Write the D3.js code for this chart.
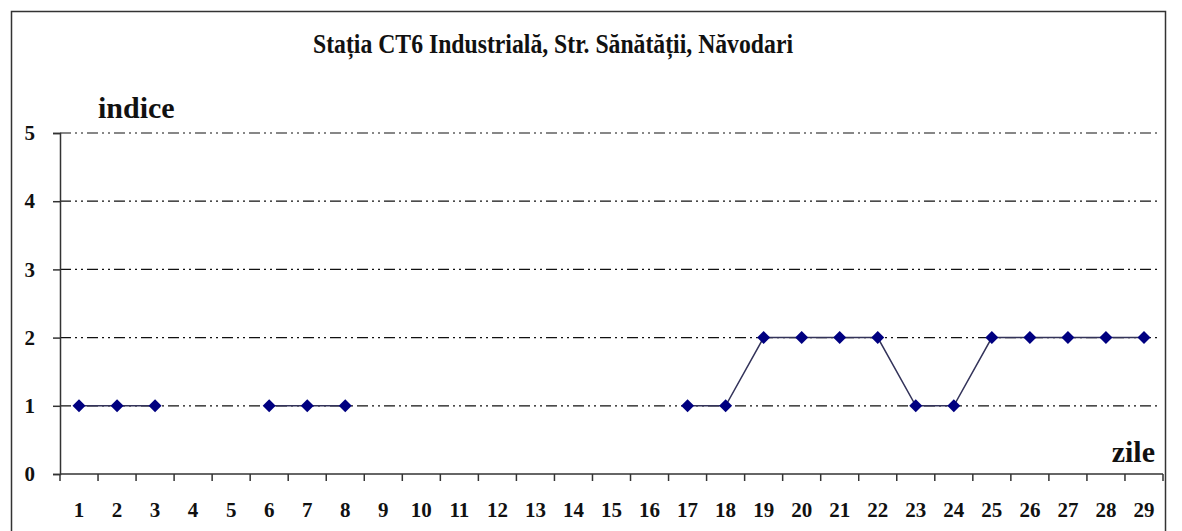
<!DOCTYPE html>
<html><head><meta charset="utf-8">
<script src="https://cdn.jsdelivr.net/npm/d3@7"></script>
</head>
<body style="margin:0">
<svg id="chart" width="1182" height="531"></svg>
<script>
const days = ["1","2","3","4","5","6","7","8","9","10","11","12","13","14","15","16","17","18","19","20","21","22","23","24","25","26","27","28","29"];
const indice = [1,1,1,null,null,1,1,1,null,null,null,null,null,null,null,null,1,1,2,2,2,2,1,1,2,2,2,2,2];
const yTicks = [0,1,2,3,4,5];
const gridValues = [1,2,3,4,5];
const title = "Stația CT6 Industrială, Str. Sănătății, Năvodari";

const svg = d3.select("#chart");
const pl = 60, pr = 1163, pt = 133, pb = 474;
const FONT = "Liberation Serif";

svg.append("rect").attr("x",11.5).attr("y",11.5).attr("width",1154).attr("height",540)
  .attr("fill","none").attr("stroke","#333").attr("stroke-width",1.5);

const x = d3.scaleBand().domain(days).range([pl,pr]).padding(0);
const y = d3.scaleLinear().domain([0,5]).range([pb,pt]);

svg.append("g").selectAll("line").data(gridValues).join("line")
  .attr("x1",pl).attr("x2",1160)
  .attr("y1",d=>y(d)).attr("y2",d=>y(d))
  .attr("stroke","#111").attr("stroke-width",1.2)
  .attr("stroke-dasharray","11,4,2,4,2,4");

const yAxis = svg.append("g").attr("transform",`translate(${pl},0)`)
  .call(d3.axisLeft(y).tickValues(yTicks).tickSize(7).tickPadding(18).tickFormat(d3.format("d")));
yAxis.select(".domain").attr("stroke","#333").attr("stroke-width",1.5);
yAxis.selectAll(".tick line").attr("stroke","#333").attr("stroke-width",1.5);
yAxis.selectAll("text").style("font-family",FONT).style("font-weight","bold")
  .style("font-size","21px").attr("fill","#111");

const xAxisG = svg.append("g").attr("transform",`translate(0,${pb})`);
xAxisG.append("line").attr("x1",pl).attr("x2",pr).attr("stroke","#333").attr("stroke-width",1.5);
const boundaries = days.map(d=>x(d)).concat([pr]);
xAxisG.selectAll("line.tk").data(boundaries).join("line").attr("class","tk")
  .attr("x1",d=>d).attr("x2",d=>d).attr("y1",0).attr("y2",7)
  .attr("stroke","#333").attr("stroke-width",1.5);
xAxisG.selectAll("text").data(days).join("text")
  .attr("x",d=>x(d)+x.bandwidth()/2).attr("y",43)
  .attr("text-anchor","middle")
  .style("font-family",FONT).style("font-weight","bold").style("font-size","21px")
  .attr("fill","#111").text(d=>d);

const pts = days.map((d,i)=>({d,v:indice[i]}));
const line = d3.line().defined(p=>p.v!=null)
  .x(p=>x(p.d)+x.bandwidth()/2).y(p=>y(p.v));
svg.append("path").datum(pts).attr("d",line)
  .attr("fill","none").attr("stroke","#33335a").attr("stroke-width",1.5);

svg.append("g").selectAll("path").data(pts.filter(p=>p.v!=null)).join("path")
  .attr("transform",p=>`translate(${x(p.d)+x.bandwidth()/2},${y(p.v)})`)
  .attr("d","M0,-6.5L6.5,0L0,6.5L-6.5,0Z").attr("fill","#000080");

svg.append("text").attr("x",313).attr("y",53).attr("text-anchor","start")
  .attr("textLength",480).attr("lengthAdjust","spacingAndGlyphs")
  .style("font-family",FONT).style("font-weight","bold").style("font-size","27px")
  .attr("fill","#111").text(title);
svg.append("text").attr("x",98).attr("y",118).attr("text-anchor","start")
  .style("font-family",FONT).style("font-weight","bold").style("font-size","30px")
  .attr("fill","#111").text("indice");
svg.append("text").attr("x",1155).attr("y",462).attr("text-anchor","end")
  .style("font-family",FONT).style("font-weight","bold").style("font-size","30px")
  .attr("fill","#111").text("zile");
</script>
</body></html>
